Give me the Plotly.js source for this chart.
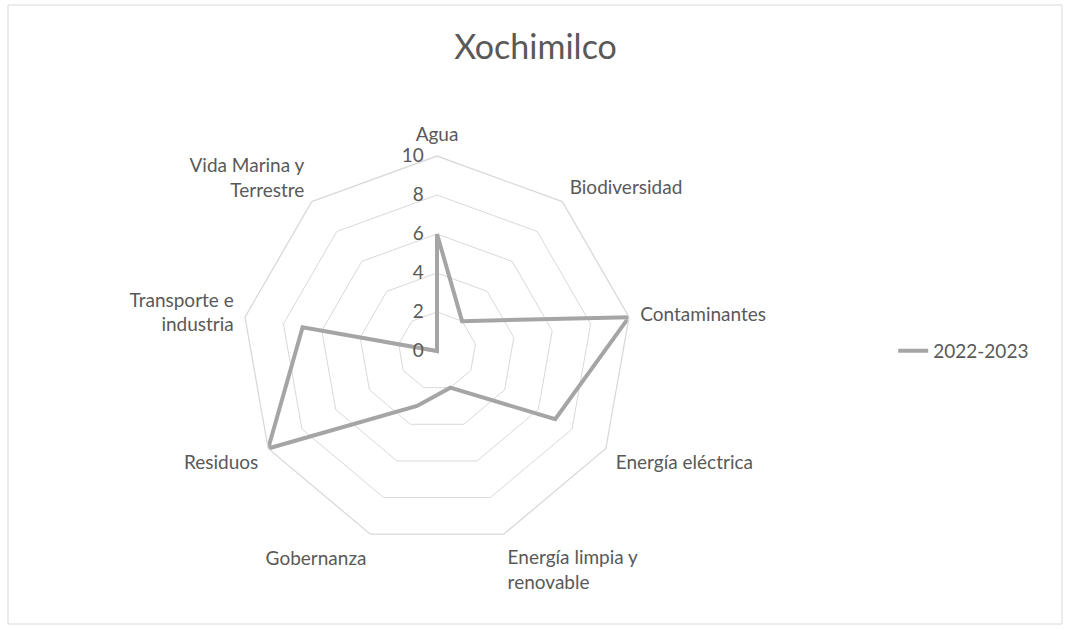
<!DOCTYPE html>
<html>
<head>
<meta charset="utf-8">
<script src="https://cdn.plot.ly/plotly-3.0.1.min.js"></script>
<style>
  html, body { margin: 0; padding: 0; background: #fff; }
  #grafico { width: 1071px; height: 630px; }
</style>
</head>
<body>
<div id="grafico"></div>
<script>
// Categorías del radar (en el orden de Excel, sentido horario desde arriba)
let categorias = ['Agua', 'Biodiversidad', 'Contaminantes', 'Energía eléctrica',
  'Energía limpia y<br>renovable', 'Gobernanza', 'Residuos',
  'Transporte e<br>industria', 'Vida Marina y<br>Terrestre'];
let valores = [6, 2, 10, 7, 2, 3, 10, 7, 0];
let nombreSerie = '2022-2023';
let ticksRadial = [0, 2, 4, 6, 8, 10];

// Cerrar el polígono repitiendo el primer punto
let theta = categorias.concat([categorias[0]]);
let r = valores.concat([valores[0]]);

let datos = [{
  type: 'scatterpolar',
  r: r,
  theta: theta,
  mode: 'lines',
  name: nombreSerie,
  line: { color: '#A5A5A5', width: 4 },
  cliponaxis: false
}];

let gris = '#595959';

let layout = {
  width: 1071,
  height: 630,
  margin: { l: 0, r: 0, t: 0, b: 0 },
  paper_bgcolor: '#fff',
  font: { family: 'Lato, "Noto Sans", sans-serif', size: 19, color: gris },
  title: {
    text: 'Xochimilco',
    font: { size: 34, color: gris },
    x: 0.5, xanchor: 'center',
    y: 0.925, yanchor: 'middle'
  },
  showlegend: true,
  legend: {
    x: 0.834, xanchor: 'left',
    y: 0.443, yanchor: 'middle',
    font: { size: 19, color: gris },
    bgcolor: 'rgba(0,0,0,0)'
  },
  polar: {
    domain: { x: [0.2260, 0.5901], y: [0.1333, 0.7524] },
    bgcolor: '#fff',
    gridshape: 'linear',
    radialaxis: {
      range: [0, 10],
      tickvals: ticksRadial,
      angle: 90,
      tickangle: 90,
      side: 'counterclockwise',
      showline: false,
      ticks: 'outside',
      ticklen: 6,
      tickcolor: 'rgba(0,0,0,0)',
      gridcolor: '#D9D9D9',
      gridwidth: 1.3,
      tickfont: { size: 19, color: gris }
    },
    angularaxis: {
      rotation: 90,
      direction: 'clockwise',
      showgrid: false,
      linecolor: '#D9D9D9',
      linewidth: 1.3,
      ticks: 'outside',
      ticklen: 7,
      tickcolor: 'rgba(0,0,0,0)',
      tickfont: { size: 19, color: gris }
    }
  },
  shapes: [{
    type: 'rect', xref: 'paper', yref: 'paper',
    x0: 8 / 1071, x1: 1062 / 1071, y0: 6 / 630, y1: 625 / 630,
    line: { color: '#D9D9D9', width: 1 }
  }]
};

Plotly.newPlot('grafico', datos, layout, { displayModeBar: false });
</script>
</body>
</html>
